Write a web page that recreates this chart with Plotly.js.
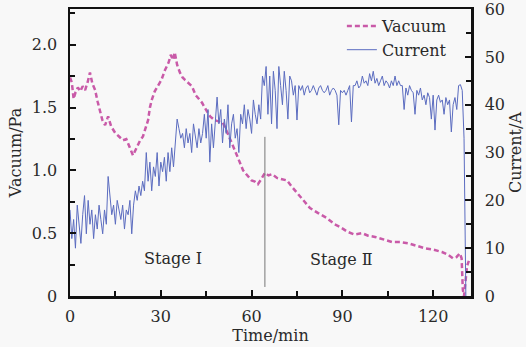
<!DOCTYPE html>
<html>
<head>
<meta charset="utf-8">
<script src="https://cdn.plot.ly/plotly-3.0.1.min.js"></script>
<style>html,body{margin:0;padding:0;background:#f8f8f8;}#chart{width:526px;height:347px;}</style>
</head>
<body>
<div id="chart"></div>
<script>
// Vacuum (Pa) readings vs time (min)
const vacuumTime = [0,0.6,1.2,1.8,2.6,3.4,4.2,5.0,5.8,6.6,7.4,8.3,9.1,9.9,10.7,11.6,12.6,13.6,14.9,16.2,17.5,18.6,19.7,20.8,22.0,23.2,24.1,25.0,25.8,26.4,27.0,28.0,29.0,30.2,31.4,32.6,33.3,34.0,34.6,35.4,36.3,37.2,38.0,39.2,40.3,41.5,42.5,43.6,45.0,46.3,47.8,49.2,50.5,52.0,53.8,55.5,57.2,58.8,60.0,61.1,62.1,63.2,64.4,65.6,66.8,68.4,70.0,71.7,73.3,75.0,77.0,79.3,82.0,84.9,87.5,89.2,91.8,94.0,96.5,98.5,100.8,103.5,106.4,109.0,111.7,114.5,117.3,120.0,122.9,124.8,126.5,127.7,128.8,129.4,129.8,130.2,130.7,131.2,131.8];
const vacuumPa = [1.74,1.70,1.57,1.62,1.66,1.63,1.67,1.64,1.70,1.78,1.69,1.64,1.55,1.48,1.40,1.36,1.43,1.35,1.30,1.27,1.24,1.25,1.18,1.12,1.18,1.24,1.27,1.33,1.40,1.50,1.56,1.63,1.67,1.72,1.80,1.86,1.92,1.88,1.94,1.84,1.78,1.74,1.72,1.69,1.67,1.60,1.57,1.54,1.48,1.43,1.40,1.39,1.38,1.30,1.19,1.10,1.00,0.95,0.92,0.91,0.89,0.93,0.98,0.96,0.97,0.94,0.93,0.92,0.87,0.82,0.76,0.70,0.66,0.62,0.57,0.55,0.51,0.49,0.50,0.48,0.47,0.45,0.43,0.43,0.42,0.40,0.38,0.37,0.35,0.33,0.30,0.31,0.34,0.30,0.05,0.0,0.12,0.24,0.28];

// Current (A), sampled every 0.6 min
const sampleStep = 0.6;
const currentA = [
  18,12,16,10,19,14,11,17,21,13,20,15,18,12,17,
  14,19,16,13,18,15,
  25,
  21,17,19,15,20,18,16,19,14,18,17,20,
  13,19,
  22,20,23,21,24,22,30,
  24,28,22,27,25,30,23,28,26,29,
  24,30,26,31,27,33,
  37,35,
  33,34,31,35,32,34,30,36,33,31,35,32,34,38,
  33,39,28,36,31,37,
  41.6,
  36,39,32,37,34,40,31,36,38,33,35,
  30,
  38,36,40,35,39,37,34,41,38,36,40,37,
  46,
  44,48,38,46,36,47,43,35,48,44,40,47,43,37,46,45,42,44,
  36.8,44,
  43,44,42,43.5,44,42.5,43,44,43,42,43.5,44,43,42.5,43,44,42,43,43.5,
  43,42,35.8,43,42.5,43,42,
  43,44,36.4,44,
  44,45,43.5,44,46,44.5,45,44,46.5,45,47,44.5,45.5,44,45,46,44,45,44.5,43.5,45,44,46,44,45,44,
  44,39,43.5,42,44,43,42.5,38,43,42,43.5,41,42,40,42.5,41.5,37,42,34.7,41,42,40.5,41,38,41.5,40,41,34.3,40,41.5,39,
  44,44.2,43,
  33,
  0
];
const currentTime = currentA.map((_, i) => +(i * sampleStep).toFixed(2));

const xTickVals = [0,30,60,90,120];
const yTickVals = [0,0.5,1.0,1.5,2.0];
const yTickText = ['0','0.5','1.0','1.5','2.0'];
const y2TickVals = [0,10,20,30,40,50,60];

const stageLabels = ['Stage \u2160','Stage \u2161'];
const stageX = [33.9, 89.7];
const stageY = [0.30, 0.29];

const FONT = 'DejaVu Serif, Liberation Serif, serif';
const FS = 16;
const TXT = '#2a2a2a';

const traces = [
  {x: vacuumTime, y: vacuumPa, name: 'Vacuum', type: 'scatter', mode: 'lines', yaxis: 'y',
   line: {color: '#c95aa8', width: 2.5, dash: '5px,3px'}},
  {x: currentTime, y: currentA, name: 'Current', type: 'scatter', mode: 'lines', yaxis: 'y2',
   line: {color: '#5b6cc0', width: 1}}
];

const axisCommon = {
  showgrid: false, zeroline: false, showline: true, linecolor: '#111', linewidth: 2.5,
  ticks: 'inside', ticklen: 6, tickwidth: 2, tickcolor: '#111', ticklabeloverflow: 'allow',
  tickfont: {family: FONT, size: FS, color: TXT}, automargin: false
};

const layout = {
  width: 526, height: 347,
  margin: {l: 70, r: 55, t: 9, b: 51},
  paper_bgcolor: '#f8f8f8', plot_bgcolor: '#f8f8f8',
  font: {family: FONT, size: FS, color: TXT},
  showlegend: true,
  legend: {x: 0.678, y: 1.0, xanchor: 'left', yanchor: 'top', bgcolor: 'rgba(0,0,0,0)',
           font: {family: FONT, size: FS, color: TXT}, itemwidth: 30, tracegroupgap: 0},
  xaxis: Object.assign({}, axisCommon, {
    range: [0, 132.5], tickvals: xTickVals, mirror: true, ticklabelstandoff: 4,
    minor: {dtick: 15, tick0: 0, ticks: 'inside', ticklen: 5, tickwidth: 2, tickcolor: '#111'},
    title: {text: 'Time/min', font: {family: FONT, size: FS, color: TXT}, standoff: 4}
  }),
  yaxis: Object.assign({}, axisCommon, {
    range: [0, 2.285], tickvals: yTickVals, ticktext: yTickText, ticklabelstandoff: 7,
    minor: {dtick: 0.25, tick0: 0, ticks: 'inside', ticklen: 5, tickwidth: 2, tickcolor: '#111'},
    title: {text: 'Vacuum/Pa', font: {family: FONT, size: FS, color: TXT}, standoff: 6}
  }),
  yaxis2: Object.assign({}, axisCommon, {
    range: [0, 60.02], tickvals: y2TickVals, overlaying: 'y', side: 'right', ticklabelstandoff: 8,
    minor: {dtick: 5, tick0: 0, ticks: 'inside', ticklen: 5, tickwidth: 2, tickcolor: '#111'},
    title: {text: 'Current/A', font: {family: FONT, size: FS, color: TXT}, standoff: 6}
  }),
  annotations: stageLabels.map((t, i) => ({
    text: t, x: stageX[i], y: stageY[i], xref: 'x', yref: 'y', showarrow: false,
    font: {family: FONT, size: FS, color: TXT}
  })),
  shapes: [
    {type: 'line', xref: 'x', yref: 'y', x0: 64.4, x1: 64.4, y0: 0.072, y1: 1.267,
     line: {color: '#777', width: 1}}
  ]
};

Plotly.newPlot('chart', traces, layout, {displayModeBar: false, staticPlot: true});
</script>
</body>
</html>
